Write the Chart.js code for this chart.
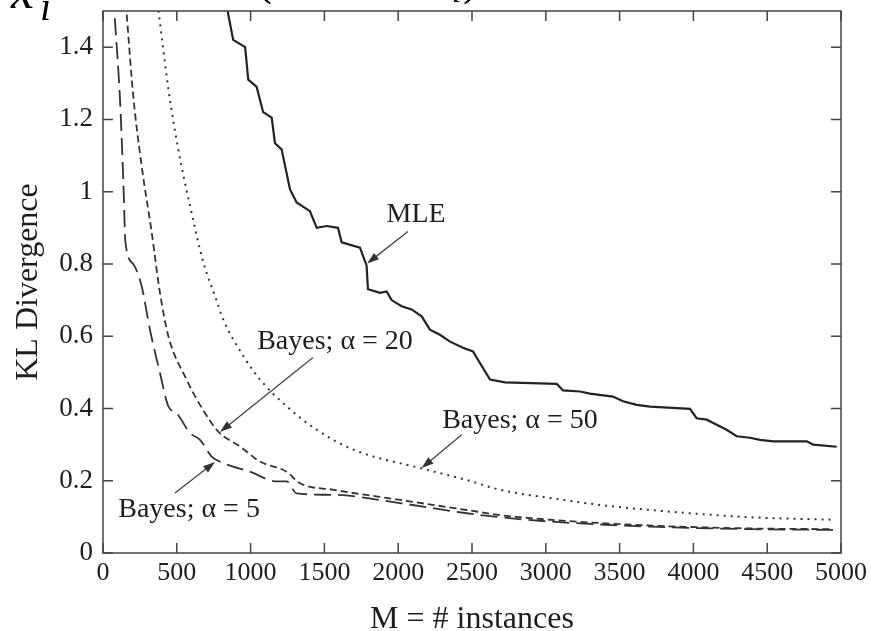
<!DOCTYPE html>
<html>
<head>
<meta charset="utf-8">
<script src="https://cdn.jsdelivr.net/npm/chart.js@4/dist/chart.umd.min.js"></script>
<style>
  body { margin: 0; background: #fff; }
  canvas { display: block; }
</style>
</head>
<body>
<canvas id="chart" width="871" height="631"></canvas>
<script>
// tick values
const xTicks = [0, 500, 1000, 1500, 2000, 2500, 3000, 3500, 4000, 4500, 5000];
const yTicks = [0, 0.2, 0.4, 0.6, 0.8, 1, 1.2, 1.4];

// MLE
const mleM = [830, 882, 963, 984, 1041, 1085, 1143, 1165, 1210, 1267, 1312, 1402, 1448, 1515, 1592, 1617, 1741, 1786, 1795, 1877, 1922, 1955, 2023, 2091, 2159, 2215, 2283, 2351, 2439, 2507, 2540, 2622, 2724, 3074, 3117, 3232, 3299, 3455, 3523, 3616, 3706, 3977, 4022, 4090, 4158, 4225, 4293, 4383, 4451, 4541, 4768, 4811, 4971];
const mleKL = [1.53, 1.42, 1.40, 1.31, 1.29, 1.22, 1.205, 1.134, 1.117, 1.006, 0.970, 0.946, 0.900, 0.905, 0.900, 0.860, 0.845, 0.795, 0.730, 0.720, 0.724, 0.700, 0.683, 0.674, 0.655, 0.618, 0.604, 0.585, 0.568, 0.558, 0.535, 0.480, 0.472, 0.468, 0.450, 0.447, 0.441, 0.433, 0.420, 0.410, 0.405, 0.399, 0.373, 0.369, 0.355, 0.341, 0.323, 0.319, 0.313, 0.309, 0.309, 0.300, 0.294];

// Bayes, alpha = 50 (dotted)
const b50M = [370, 443, 510, 590, 680, 759, 815, 951, 1064, 1244, 1448, 1696, 2148, 2464, 2690, 3029, 3367, 3706, 4045, 4383, 4946];
const b50KL = [1.52, 1.284, 1.117, 0.96, 0.804, 0.711, 0.646, 0.545, 0.480, 0.406, 0.341, 0.286, 0.235, 0.202, 0.175, 0.152, 0.133, 0.119, 0.108, 0.099, 0.092];

// Bayes, alpha = 20 (short dash)
const b20M = [155, 205, 262, 330, 386, 443, 566, 657, 781, 928, 1064, 1244, 1335, 1561, 2012, 2464, 2690, 3029, 3706, 4383, 4946];
const b20KL = [1.52, 1.265, 1.071, 0.887, 0.720, 0.600, 0.480, 0.410, 0.336, 0.295, 0.253, 0.225, 0.193, 0.175, 0.147, 0.119, 0.105, 0.092, 0.076, 0.068, 0.066];

// Bayes, alpha = 5 (long dash)
const b5M = [80, 115, 138, 152, 205, 262, 318, 386, 443, 499, 590, 657, 736, 815, 996, 1177, 1244, 1312, 1561, 2012, 2464, 2690, 3029, 3706, 4383, 4946];
const b5KL = [1.48, 1.256, 1.026, 0.860, 0.800, 0.738, 0.618, 0.498, 0.406, 0.387, 0.332, 0.313, 0.267, 0.249, 0.225, 0.198, 0.198, 0.165, 0.161, 0.138, 0.110, 0.099, 0.087, 0.073, 0.066, 0.064];

// annotations: label text, label centre, arrow start, arrow tip (data units)
const noteText = ["MLE", "Bayes; \u03b1 = 20", "Bayes; \u03b1 = 5", "Bayes; \u03b1 = 50"];
const noteAt = [[2121, 0.937], [1572, 0.585], [583, 0.119], [2825, 0.366]];
const noteFrom = [[2066, 0.89], [1423, 0.541], [488, 0.166], [2430, 0.327]];
const noteTo = [[1789, 0.801], [793, 0.335], [759, 0.252], [2159, 0.235]];

const serif = "'Liberation Serif', 'Times New Roman', serif";
const ink = "#1e1e1e";

function toPoints(xs, ys) {
  return xs.map((x, i) => ({ x, y: ys[i] }));
}

const frameTicks = {
  id: "frameTicks",
  afterDraw(chart) {
    const { ctx, chartArea: a, scales } = chart;
    ctx.save();
    ctx.strokeStyle = "#444";
    ctx.lineWidth = 1.5;
    ctx.strokeRect(a.left, a.top, a.right - a.left, a.bottom - a.top);
    ctx.beginPath();
    xTicks.forEach((v) => {
      const px = scales.x.getPixelForValue(v);
      ctx.moveTo(px, a.bottom);
      ctx.lineTo(px, a.bottom - 10);
      ctx.moveTo(px, a.top);
      ctx.lineTo(px, a.top + 10);
    });
    yTicks.forEach((v) => {
      const py = scales.y.getPixelForValue(v);
      ctx.moveTo(a.left, py);
      ctx.lineTo(a.left + 10, py);
      ctx.moveTo(a.right, py);
      ctx.lineTo(a.right - 10, py);
    });
    ctx.stroke();
    ctx.restore();
  },
};

const notes = {
  id: "notes",
  afterDraw(chart) {
    const { ctx, scales } = chart;
    const px = (p) => [scales.x.getPixelForValue(p[0]), scales.y.getPixelForValue(p[1])];
    ctx.save();
    ctx.font = "28px " + serif;
    ctx.fillStyle = ink;
    ctx.textAlign = "center";
    ctx.textBaseline = "middle";
    noteText.forEach((t, i) => {
      const [tx, ty] = px(noteAt[i]);
      ctx.fillText(t, tx, ty);
      const [x0, y0] = px(noteFrom[i]);
      const [x1, y1] = px(noteTo[i]);
      const ang = Math.atan2(y1 - y0, x1 - x0);
      ctx.strokeStyle = "#444";
      ctx.lineWidth = 1.3;
      ctx.beginPath();
      ctx.moveTo(x0, y0);
      ctx.lineTo(x1 - 8 * Math.cos(ang), y1 - 8 * Math.sin(ang));
      ctx.stroke();
      ctx.fillStyle = "#333";
      ctx.beginPath();
      ctx.moveTo(x1, y1);
      ctx.lineTo(x1 - 12 * Math.cos(ang) + 4 * Math.sin(ang), y1 - 12 * Math.sin(ang) - 4 * Math.cos(ang));
      ctx.lineTo(x1 - 12 * Math.cos(ang) - 4 * Math.sin(ang), y1 - 12 * Math.sin(ang) + 4 * Math.cos(ang));
      ctx.closePath();
      ctx.fill();
      ctx.fillStyle = ink;
    });
    // cropped bits of the heading above the figure
    ctx.fillStyle = "#000";
    ctx.textAlign = "left";
    ctx.textBaseline = "alphabetic";
    ctx.font = "italic 52px " + serif;
    ctx.fillText("x", 11, 8);
    ctx.font = "italic 40px " + serif;
    ctx.fillText("i", 40, 20);
    ctx.font = "48px " + serif;
    ctx.fillText("(", 256, -6);
    ctx.font = "italic 34px " + serif;
    ctx.fillText("i", 452, 2);
    ctx.font = "48px " + serif;
    ctx.fillText(")", 463, -6);
    ctx.restore();
  },
};

const graphArea = document.getElementById("chart");

new Chart(graphArea, {
  type: "line",
  data: {
    datasets: [
      {
        label: "MLE",
        data: toPoints(mleM, mleKL),
        borderColor: "#222",
        borderWidth: 2.2,
        pointRadius: 0,
        tension: 0,
      },
      {
        label: "Bayes; \u03b1 = 50",
        data: toPoints(b50M, b50KL),
        borderColor: "#333",
        borderWidth: 2,
        borderDash: [2, 5],
        pointRadius: 0,
        cubicInterpolationMode: "monotone",
      },
      {
        label: "Bayes; \u03b1 = 20",
        data: toPoints(b20M, b20KL),
        borderColor: "#333",
        borderWidth: 1.8,
        borderDash: [7, 4],
        pointRadius: 0,
        cubicInterpolationMode: "monotone",
      },
      {
        label: "Bayes; \u03b1 = 5",
        data: toPoints(b5M, b5KL),
        borderColor: "#333",
        borderWidth: 1.8,
        borderDash: [17, 7],
        pointRadius: 0,
        cubicInterpolationMode: "monotone",
      },
    ],
  },
  options: {
    responsive: false,
    animation: false,
    layout: { padding: { top: 11, right: 30, left: 0, bottom: 0 } },
    plugins: { legend: { display: false }, tooltip: { enabled: false } },
    scales: {
      x: {
        type: "linear",
        min: 0,
        max: 5000,
        afterBuildTicks: (s) => { s.ticks = xTicks.map((v) => ({ value: v })); },
        afterFit: (s) => {
          s.height = 78;
          s.paddingLeft = 0;
          s.paddingRight = 0;
        },
        grid: { display: false, drawTicks: false },
        border: { display: false },
        ticks: {
          padding: 5,
          maxRotation: 0,
          autoSkip: false,
          color: ink,
          font: { family: serif, size: 26 },
          callback: (v) => String(v),
        },
        title: {
          display: true,
          text: "M = # instances",
          color: ink,
          font: { family: serif, size: 32, lineHeight: 0.7 },
          padding: { top: 0, bottom: 0 },
        },
      },
      y: {
        min: 0,
        max: 1.5,
        afterBuildTicks: (s) => { s.ticks = yTicks.map((v) => ({ value: v })); },
        afterFit: (s) => {
          s.width = 103;
          s.paddingTop = 0;
          s.paddingBottom = 0;
        },
        grid: { display: false, drawTicks: false },
        border: { display: false },
        ticks: {
          padding: 10,
          color: ink,
          font: { family: serif, size: 27 },
          callback: (v) => String(Number(v.toFixed(1))),
        },
        title: {
          display: true,
          text: "KL Divergence",
          color: ink,
          font: { family: serif, size: 32, lineHeight: 1.2 },
          padding: { top: 9, bottom: 0 },
        },
      },
    },
  },
  plugins: [frameTicks, notes],
});
</script>
</body>
</html>
